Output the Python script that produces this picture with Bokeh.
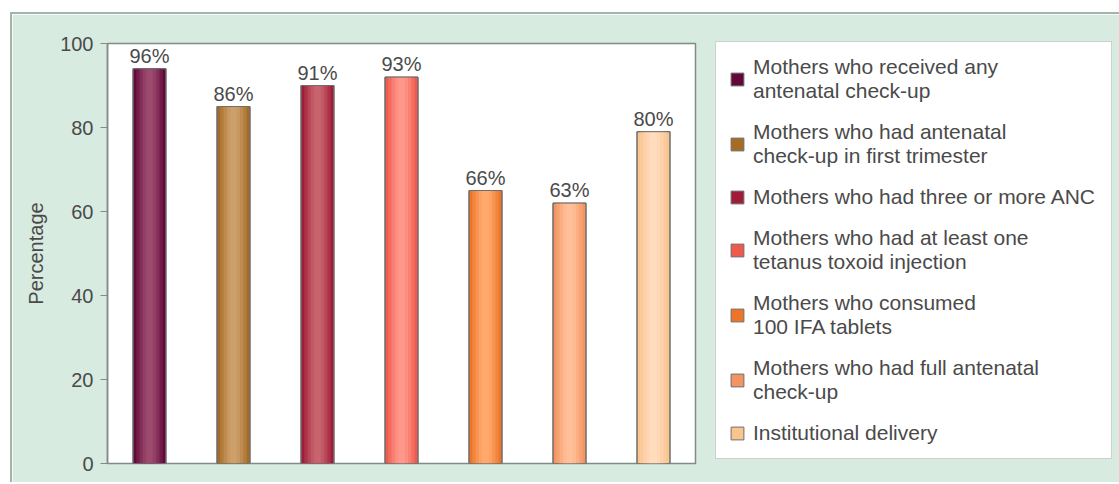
from bokeh.plotting import figure
from bokeh.models import (ColumnDataSource, FactorRange, Range1d, Legend, LegendItem,
                          LabelSet, FixedTicker)
from bokeh.core.properties import value
from bokeh.embed import file_html
from bokeh.resources import INLINE

# ---- data -------------------------------------------------------------
categories = [
    "Mothers who received any\nantenatal check-up",
    "Mothers who had antenatal\ncheck-up in first trimester",
    "Mothers who had three or more ANC",
    "Mothers who had at least one\ntetanus toxoid injection",
    "Mothers who consumed\n100 IFA tablets",
    "Mothers who had full antenatal\ncheck-up",
    "Institutional delivery",
]
label_values = [96, 86, 91, 93, 66, 63, 80]      # printed percentages
bar_heights = [94, 85, 90, 92, 65, 62, 79]       # bar tops as drawn
y_ticks = [0, 20, 40, 60, 80, 100]

edge_colors = ["#62093a", "#a66c26", "#a01c38", "#ee5a4c", "#ee7428", "#f49462", "#f9c48e"]
center_colors = ["#9c4a6e", "#cda06a", "#c8646e", "#ff988a", "#ffaa6c", "#ffbf98", "#ffdcbc"]

# ---- helpers ----------------------------------------------------------
def mix(c1, c2, t):
    a = [int(c1[i:i + 2], 16) for i in (1, 3, 5)]
    b = [int(c2[i:i + 2], 16) for i in (1, 3, 5)]
    return "#%02x%02x%02x" % tuple(round(a[k] + (b[k] - a[k]) * t) for k in range(3))

BG = "#d8ebe1"
TXT = "#4a4a4a"
AX = "#7f8c87"
FONT = "Liberation Sans"

source = ColumnDataSource(dict(
    cat=categories,
    h=bar_heights,
    lbl=[f"{v}%" for v in label_values],
    edge=edge_colors,
))

p = figure(x_range=FactorRange(factors=categories), y_range=Range1d(0, 100),
           frame_width=588, frame_height=420,
           min_border_left=95, min_border_top=29, min_border_bottom=19, min_border_right=420,
           output_backend="svg", toolbar_location=None,
           background_fill_color="white", border_fill_color=BG)
p.margin = (12, 0, 0, 10)
p.styles = {"border-top": "2px solid #a2b4ab", "border-left": "2px solid #a2b4ab"}

bw = 0.393
base = p.vbar(x="cat", top="h", width=bw, source=source, fill_color="edge",
              line_color="#6e6e6e", line_width=1)
steps = [(0.8, 0.3), (0.6, 0.6), (0.4, 0.85), (0.2, 1.0)]
for wf, t in steps:
    src = ColumnDataSource(dict(cat=categories, h=bar_heights,
                                c=[mix(e, c, t) for e, c in zip(edge_colors, center_colors)]))
    p.vbar(x="cat", top="h", width=bw * wf, source=src, fill_color="c", line_color=None)
p.vbar(x="cat", top="h", width=bw, source=source, fill_color=None,
       line_color="#6e6e6e", line_width=1)

labels = LabelSet(x="cat", y="h", text="lbl", source=source, y_offset=2,
                  text_align="center", text_baseline="bottom",
                  text_font=value(FONT), text_font_size=value("20px"), text_color=TXT)
p.add_layout(labels)

# axes
p.xaxis.visible = False
p.grid.visible = False
p.outline_line_color = AX
p.outline_line_width = 1.5
ya = p.yaxis[0]
ya.ticker = FixedTicker(ticks=y_ticks)
ya.minor_tick_line_color = None
ya.axis_line_color = AX
ya.axis_line_width = 1.5
ya.major_tick_line_color = AX
ya.major_tick_out = 7
ya.major_tick_in = 0
ya.major_label_standoff = 7
ya.major_label_text_font = FONT
ya.major_label_text_font_size = "20px"
ya.major_label_text_color = TXT
ya.axis_label = "Percentage"
ya.axis_label_text_font = FONT
ya.axis_label_text_font_size = "20px"
ya.axis_label_text_font_style = "normal"
ya.axis_label_text_color = TXT
ya.axis_label_standoff = 10

# legend
items = [LegendItem(label=c, renderers=[base], index=i) for i, c in enumerate(categories)]
legend = Legend(items=items, location=(20, 4), margin=0,
                label_text_font=FONT, label_text_font_size="21px", label_text_color=TXT,
                label_width=345, label_height=20, label_standoff=8,
                glyph_width=16, glyph_height=16,
                spacing=17, padding=13,
                border_line_color="#9aa49f", border_line_width=1.5,
                background_fill_color="white", background_fill_alpha=1.0)
p.add_layout(legend, "right")

open("out.html", "w").write(file_html(p, INLINE))
